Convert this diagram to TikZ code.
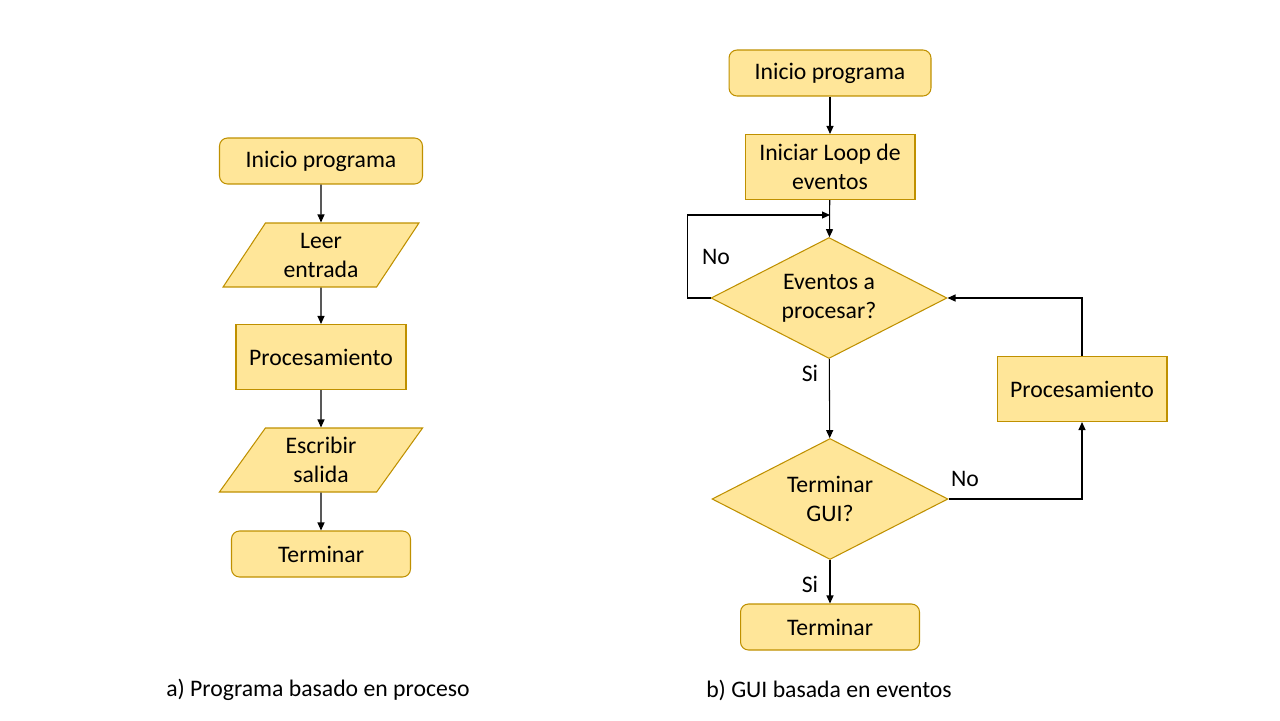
\documentclass[tikz,border=0pt]{standalone}
\usepackage{fontspec}
\setmainfont{Carlito}
\usetikzlibrary{calc, positioning}
\usetikzlibrary{arrows.meta}
\usepgflibrary{shapes.geometric}
\definecolor{boxfill}{HTML}{FFE699}
\definecolor{boxline}{HTML}{BF9000}
\def\bw{3.4cm}
\def\bh{1.3cm}
\def\sh{0.92cm}
\tikzset{
    block/.style = {
        draw=boxline, fill=boxfill, line width=0.6pt, align=center, inner sep=1pt,
        font=\fontsize{13.5}{16.5}\selectfont
    },
    process/.style = {
        block, rectangle, minimum width=\bw, minimum height=\bh
    },
    startstop/.style = {
        block, rectangle, rounded corners=0.16cm, minimum height=\sh
    },
    inout/.style = {
        block, trapezium, trapezium left angle=58, trapezium right angle=122,
        trapezium stretches=true, minimum height=1.28cm
    },
    decision/.style = {
        block, diamond, aspect=2, inner sep=0pt, minimum width=4.72cm, minimum height=2.42cm
    },
    label/.style = {font=\fontsize{13.5}{16.5}\selectfont},
}
\begin{document}
\begin{tikzpicture}[x=0.02cm, y=-0.02cm]
        \useasboundingbox (0,0) rectangle (1280,720);
        % Place the blocks (a)
        \node [startstop, minimum width=4.06cm] (a1) at (321,161) {Inicio programa};
        \node [inout, minimum width=3.92cm] (a2) at (321,255) {Leer\\entrada};
        \node [process] (a3) at (321,357) {Procesamiento};
        \node [inout, minimum width=4.08cm] (a4) at (321,460) {Escribir\\salida};
        \node [startstop, minimum width=3.58cm] (a5) at (321,554) {Terminar};

        % Place the blocks (b)
        \node [startstop, minimum width=4.04cm] (b1) at (830,73) {Inicio programa};
        \node [process] (b2) at (830,167) {Iniciar Loop de\\eventos};
        \node [decision] (b3) at (829,298) {Eventos a\\procesar?};
        \node [decision] (b4) at (830,499) {Terminar\\GUI?};
        \node [process] (b5) at (1082,389) {Procesamiento};
        \node [startstop, minimum width=3.58cm] (b6) at (830,627) {Terminar};
        \coordinate (loopin) at (830,215);

        % Draw connections
        \begin{scope}[line width=0.6pt, >={Triangle[width=0.14cm,length=0.16cm]}]
            \draw[->] (a1) -- (a2);
            \draw[->] (a2) -- (a3);
            \draw[->] (a3) -- (a4);
            \draw[->] (a4) -- (a5);

            \draw[->] (b1) -- (b2);
            \draw[->] (b2) -- (b3);
            \draw[->] (b3.west) -- ++(-23,0) |- (loopin);
            \draw[->] (b3) -- (b4);
            \draw[->] (b4.east) -| (b5.south);
            \draw[->] (b5.north) |- (b3.east);
            \draw[->] (b4) -- (b6);
        \end{scope}

        % Labels
        \node [label] (no1) at (716,257) {No};
        \node [label] (si1) at (810,373) {Si};
        \node [label] (no2) at (965,479) {No};
        \node [label] (si2) at (810,584) {Si};
        \node [label] (capa) at (318,690) {a) Programa basado en proceso};
        \node [label] (capb) at (829,690) {b) GUI basada en eventos};
\end{tikzpicture}
\end{document}
